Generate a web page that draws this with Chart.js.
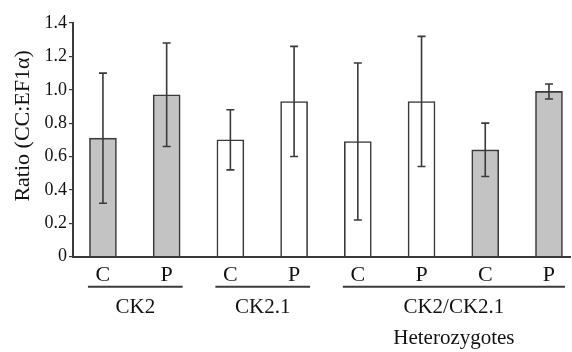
<!DOCTYPE html>
<html>
<head>
<meta charset="utf-8">
<script src="https://cdn.jsdelivr.net/npm/chart.js@4/dist/chart.umd.min.js"></script>
<style>
  html, body { margin: 0; padding: 0; background: #fff; }
  #wrap { width: 572px; height: 352px; position: relative; }
</style>
</head>
<body>
<div id="wrap"><canvas id="c" width="572" height="352"></canvas></div>
<script>
// ---- data ----
const categories = ['C', 'P', 'C', 'P', 'C', 'P', 'C', 'P'];
const ratios     = [0.71, 0.97, 0.70, 0.93, 0.69, 0.93, 0.64, 0.99];
const errors     = [0.39, 0.31, 0.18, 0.33, 0.47, 0.39, 0.16, 0.045];
const groupLabels = [['CK2'], ['CK2.1'], ['CK2/CK2.1', 'Heterozygotes']];
const groupStart  = [0, 2, 4];
const groupEnd    = [1, 3, 7];
const yTicks      = [0, 0.2, 0.4, 0.6, 0.8, 1.0, 1.2, 1.4];
const yTitle      = 'Ratio (CC:EF1\u03B1)';

const FONT = "'Liberation Serif', 'Times New Roman', serif";
const fills = ['#c3c3c3', '#c3c3c3', '#ffffff', '#ffffff', '#ffffff', '#ffffff', '#c3c3c3', '#c3c3c3'];

const points = categories.map((c, i) => ({ x: i, y: ratios[i] }));

const extras = {
  id: 'extras',
  afterDatasetsDraw(chart) {
    const ctx = chart.ctx;
    const xs = chart.scales.x, ys = chart.scales.y;
    ctx.save();
    ctx.strokeStyle = '#3a3a3a';
    ctx.lineWidth = 1.6;
    ratios.forEach((v, i) => {
      const x = xs.getPixelForValue(i);
      const yt = ys.getPixelForValue(v + errors[i]);
      const yb = ys.getPixelForValue(v - errors[i]);
      ctx.beginPath();
      ctx.moveTo(x, yt); ctx.lineTo(x, yb);
      ctx.moveTo(x - 4, yt); ctx.lineTo(x + 4, yt);
      ctx.moveTo(x - 4, yb); ctx.lineTo(x + 4, yb);
      ctx.stroke();
    });
    ctx.restore();
  },
  afterDraw(chart) {
    const ctx = chart.ctx;
    const xs = chart.scales.x;
    const area = chart.chartArea;
    ctx.save();
    ctx.strokeStyle = '#3a3a3a';
    ctx.lineWidth = 2;
    ctx.fillStyle = '#111';
    ctx.font = '21px ' + FONT;
    ctx.textAlign = 'center';
    ctx.textBaseline = 'middle';
    groupLabels.forEach((lines, g) => {
      const x0 = xs.getPixelForValue(groupStart[g]) - 15;
      const x1 = xs.getPixelForValue(groupEnd[g]) + 16;
      const ly = area.bottom + 30;
      ctx.beginPath();
      ctx.moveTo(x0, ly); ctx.lineTo(x1, ly);
      ctx.stroke();
      lines.forEach((t, k) => {
        ctx.fillText(t, (x0 + x1) / 2, ly + 21 + k * 31);
      });
    });
    ctx.translate(23, (area.top + area.bottom) / 2 - 14);
    ctx.rotate(-Math.PI / 2);
    ctx.font = '22px ' + FONT;
    ctx.fillText(yTitle, 0, 0);
    ctx.restore();
  }
};

new Chart(document.getElementById('c'), {
  type: 'bar',
  data: {
    datasets: [{
      data: points,
      backgroundColor: fills,
      borderColor: '#3a3a3a',
      borderWidth: 1.6,
      borderSkipped: 'bottom',
      barThickness: 27
    }]
  },
  options: {
    responsive: false,
    animation: false,
    devicePixelRatio: 1,
    layout: { padding: { left: 0, right: 2, top: 23, bottom: 0 } },
    plugins: { legend: { display: false }, tooltip: { enabled: false } },
    scales: {
      x: {
        type: 'linear',
        offset: false,
        min: -0.47,
        max: 7.33,
        grid: { display: false },
        border: { display: true, color: '#3a3a3a', width: 2 },
        afterFit(s) { s.height = 95.3; },
        afterBuildTicks(s) { s.ticks = categories.map((c, i) => ({ value: i })); },
        ticks: {
          autoSkip: false,
          maxRotation: 0,
          padding: -3,
          color: '#111',
          font: { family: FONT, size: 22 },
          callback: (v) => categories[v] !== undefined ? categories[v] : ''
        }
      },
      y: {
        min: 0,
        max: 1.4,
        afterFit(s) { s.width = 73; },
        afterBuildTicks(s) { s.ticks = yTicks.map(v => ({ value: v })); },
        grid: { drawOnChartArea: false, drawTicks: true, tickLength: 4, color: '#3a3a3a', lineWidth: 1.2 },
        border: { display: true, color: '#3a3a3a', width: 2 },
        ticks: {
          padding: 2,
          color: '#111',
          font: { family: FONT, size: 18 },
          callback: (v) => v === 0 ? '0' : v.toFixed(1)
        }
      }
    }
  },
  plugins: [extras]
});
</script>
</body>
</html>
